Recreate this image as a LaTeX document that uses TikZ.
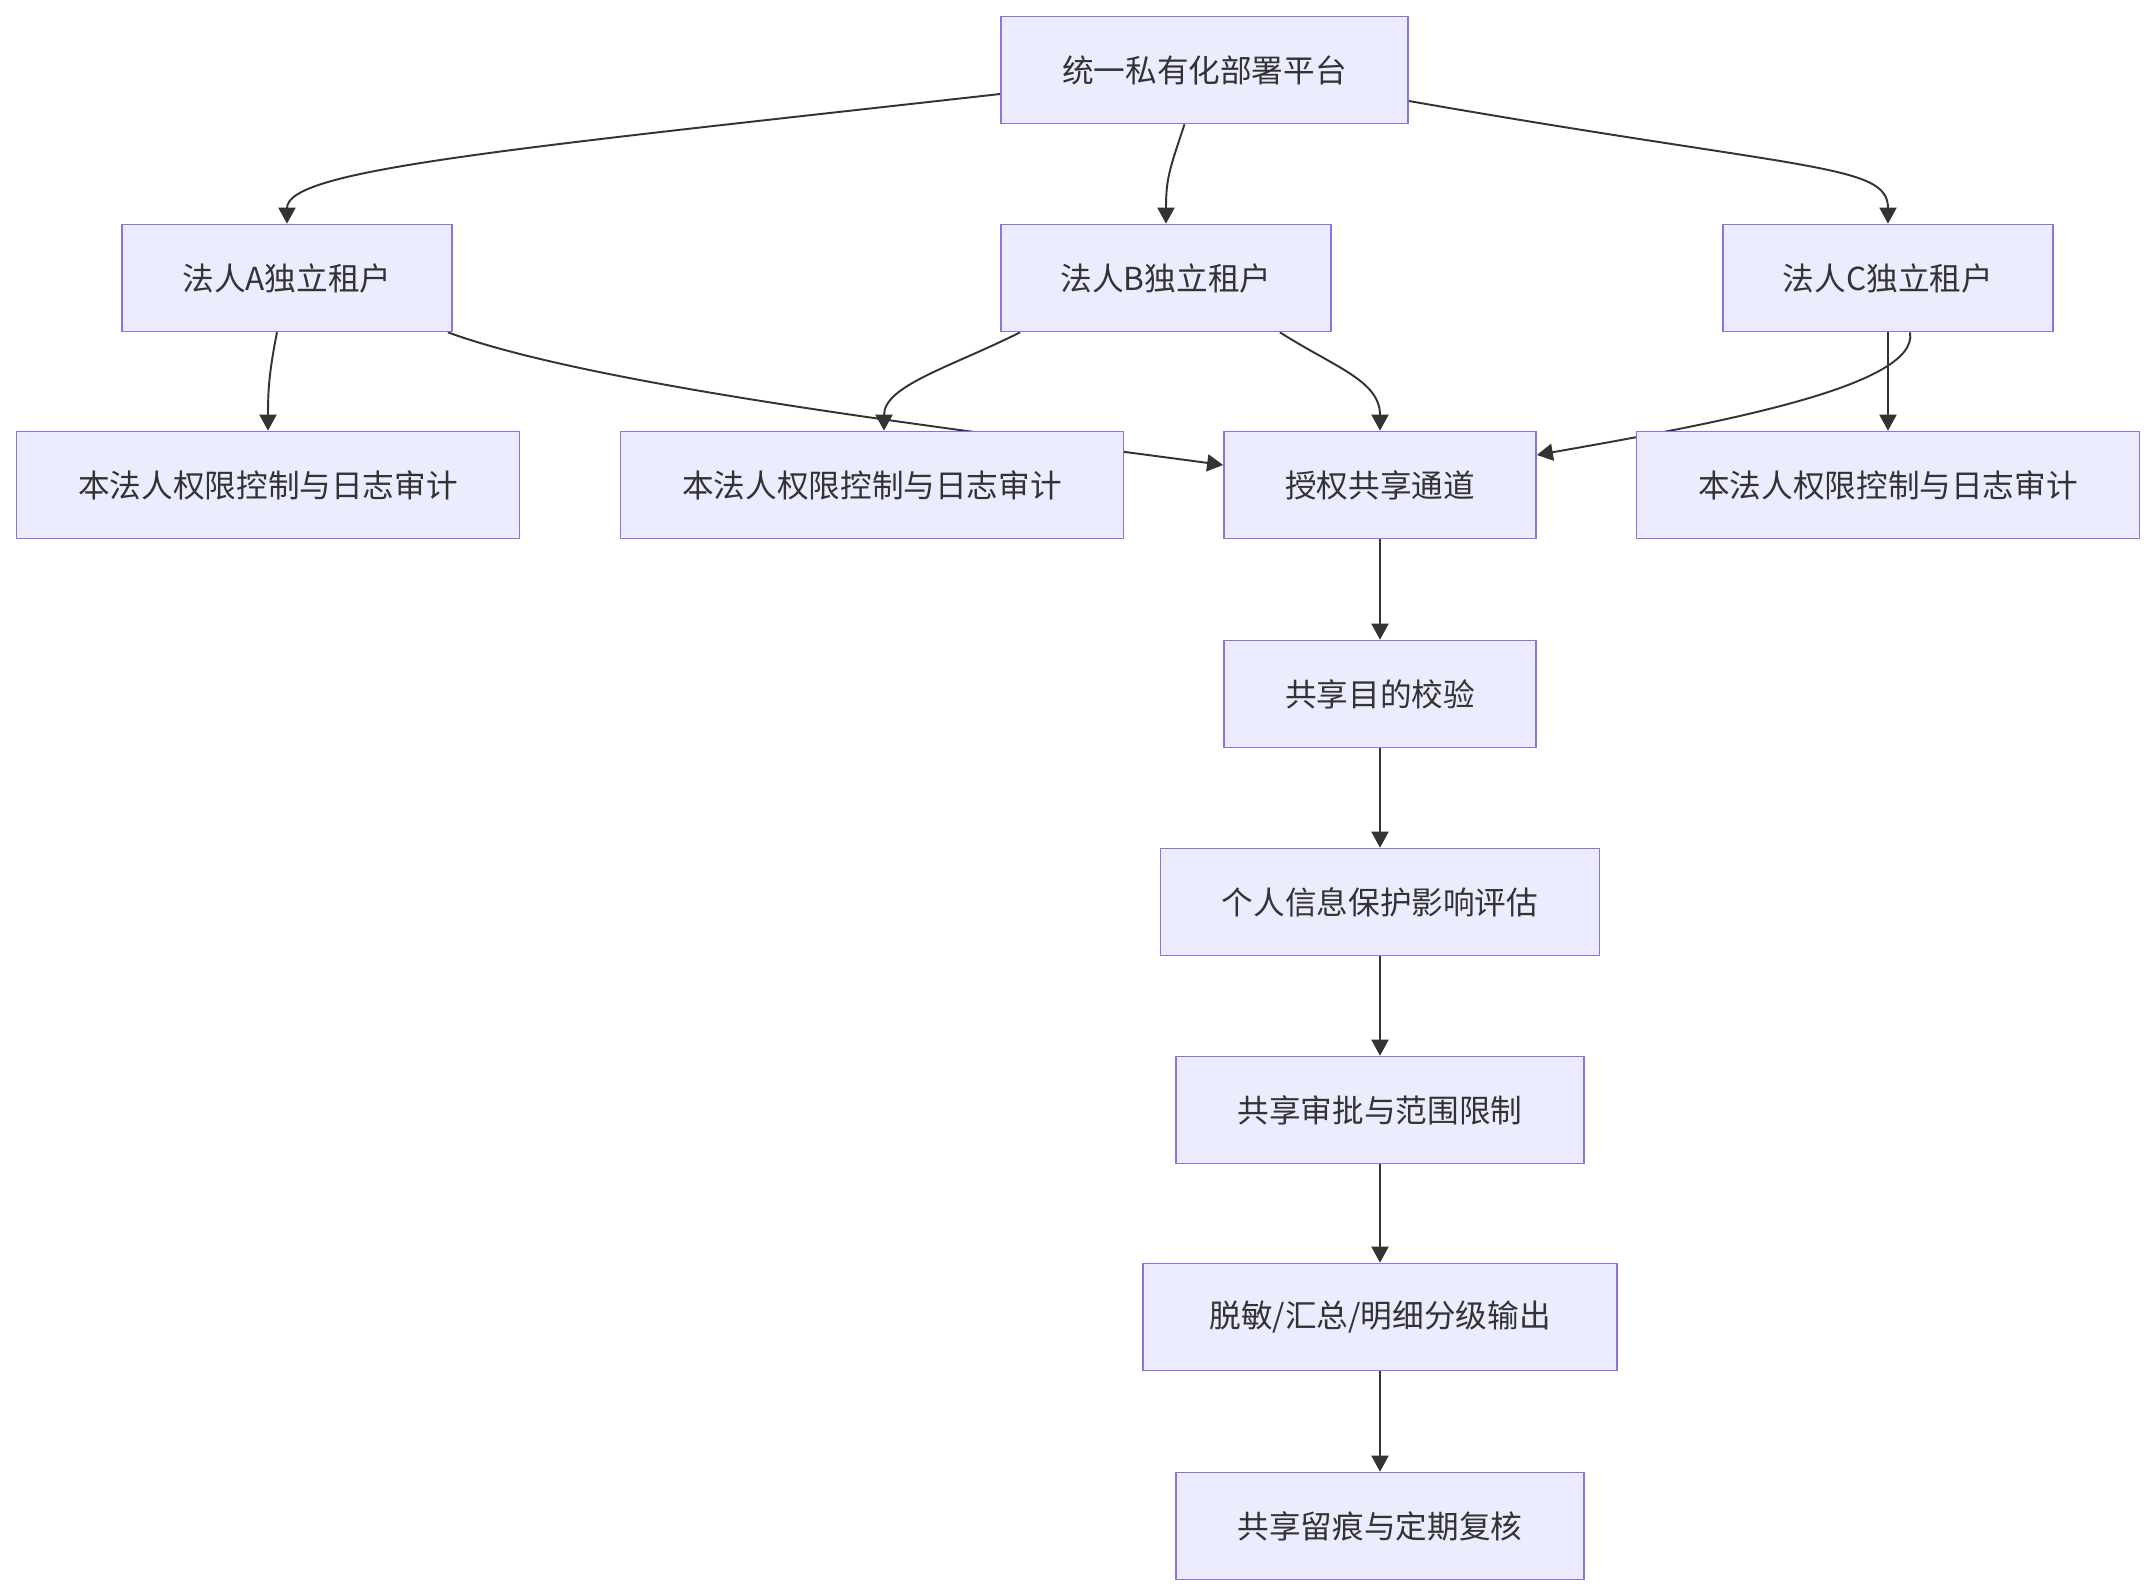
\documentclass[tikz,border=0pt]{standalone}
\usepackage{fontspec}
\setmainfont{Noto Sans CJK SC}
\usetikzlibrary{arrows.meta,calc}
\definecolor{boxfill}{HTML}{ECECFF}
\definecolor{boxline}{HTML}{9370DB}
\definecolor{ink}{HTML}{333333}
\pgfdeclarelayer{edges}
\pgfsetlayers{edges,main}
\begin{document}
\begin{tikzpicture}[x=0.01cm, y=-0.01cm,
  every node/.style={font=\fontsize{9}{11}\selectfont, text=ink},
  box/.style={draw=boxline, fill=boxfill, line width=0.45pt, inner sep=0pt, minimum height=1.07cm},
  flow/.style={draw=ink, line width=0.55pt, -{Triangle[length=0.16cm, width=0.17cm]}}]
  \useasboundingbox (0,0) rectangle (2156,1596);

  % platform and tenants
  \node[box, minimum width=4.07cm] (plat) at (1204.5,70) {统一私有化部署平台};
  \node[box, minimum width=3.30cm] (tenA) at (287,278) {法人A独立租户};
  \node[box, minimum width=3.30cm] (tenB) at (1166,278) {法人B独立租户};
  \node[box, minimum width=3.30cm] (tenC) at (1888,278) {法人C独立租户};

  % per tenant audit, shared channel
  \node[box, minimum width=5.03cm] (logA) at (268,485) {本法人权限控制与日志审计};
  \node[box, minimum width=5.03cm] (logB) at (872,485) {本法人权限控制与日志审计};
  \node[box, minimum width=3.12cm] (chan) at (1380,485) {授权共享通道};
  \node[box, minimum width=5.03cm] (logC) at (1888,485) {本法人权限控制与日志审计};

  % sharing chain
  \node[box, minimum width=3.12cm] (purp) at (1380,694) {共享目的校验};
  \node[box, minimum width=4.39cm] (pia) at (1380,902) {个人信息保护影响评估};
  \node[box, minimum width=4.08cm] (appr) at (1380,1110) {共享审批与范围限制};
  \node[box, minimum width=4.74cm] (outp) at (1380,1317) {脱敏/汇总/明细分级输出};
  \node[box, minimum width=4.08cm] (trace) at (1380,1526) {共享留痕与定期复核};

  \begin{pgfonlayer}{edges}
    % platform to tenants
    \draw[flow] ($(plat.west)+(0,24)$) .. controls +(-500,56) and +(0,-54) .. (tenA.north);
    \draw[flow] ($(plat.south)+(-20,0)$) .. controls +(-15,45) and +(0,-45) .. (tenB.north);
    \draw[flow] ($(plat.east)+(0,31)$) .. controls +(400,70) and +(0,-60) .. (tenC.north);

    % tenants to audit and channel
    \draw[flow] ($(tenA.south)+(-10,0)$) .. controls +(-8,40) and +(0,-40) .. (logA.north);
    \draw[flow] ($(tenA.south east)+(-5,0)$) .. controls +(150,55) and +(-253,-34) .. ($(chan.west)+(0,-20)$);
    \draw[flow] ($(tenB.south west)+(20,0)$) .. controls +(-70,35) and +(0,-45) .. ($(logB.north)+(12,0)$);
    \draw[flow] ($(tenB.south east)+(-52,0)$) .. controls +(55,35) and +(0,-50) .. (chan.north);
    \draw[flow] (tenC.south) -- (logC.north);
    \draw[flow] ($(tenC.south)+(22,0)$) .. controls +(10,55) and +(170,-30) .. ($(chan.east)+(0,-30)$);

    % chain
    \draw[flow] (chan.south) -- (purp.north);
    \draw[flow] (purp.south) -- (pia.north);
    \draw[flow] (pia.south) -- (appr.north);
    \draw[flow] (appr.south) -- (outp.north);
    \draw[flow] (outp.south) -- (trace.north);
  \end{pgfonlayer}
\end{tikzpicture}
\end{document}
